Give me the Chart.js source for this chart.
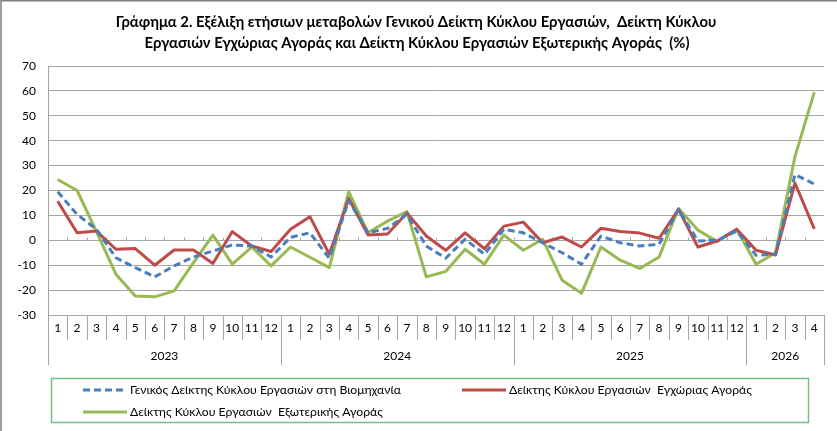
<!DOCTYPE html>
<html>
<head>
<meta charset="utf-8">
<script src="https://cdn.jsdelivr.net/npm/chart.js@4.4.1/dist/chart.umd.min.js"></script>
<style>
  html, body { margin: 0; padding: 0; background: #fff; }
  #wrap { position: relative; width: 837px; height: 431px; }
</style>
</head>
<body>
<div id="wrap"><canvas id="chart" width="837" height="431"></canvas></div>
<script>
// Years on the lower axis row and how many months each one covers
const years = ['2023', '2024', '2025', '2026'];
const monthsPerYear = [12, 12, 12, 4];

// Annual change (%) per month
const generalIndex = [
  19.5, 10.4, 4.4, -7, -11, -14.7, -10.3, -6.7, -4.3, -1.9, -2.3, -6.7,
  1.2, 3, -7.2, 16, 3, 4.8, 10.4, -2.3, -7.2, 0.4, -5.6, 4.4,
  3, -1, -5, -9.6, 1.7, -1, -2.3, -1.6, 12.4, -0.3, 0, 3.7,
  -6, -5.6, 26.4, 22.6
];
const domesticIndex = [
  15.7, 3, 3.7, -3.6, -3.3, -10, -3.9, -3.9, -9.3, 3.5, -2.3, -4.5,
  4.4, 9.5, -5.6, 16.8, 2.1, 2.5, 11, 1.7, -4, 3, -3.4, 5.7,
  7.3, -1, 1.3, -2.7, 4.8, 3.5, 2.9, 0.8, 12.4, -2.7, -0.3, 4.4,
  -4, -5.9, 23, 4.6
];
const externalIndex = [
  24.4, 20, 3.5, -13.6, -22.4, -22.7, -20.3, -9, 2.1, -9.6, -2.7, -10.3,
  -2.7, -6.8, -11, 19.5, 3, 7.7, 11.5, -14.7, -12.5, -3.6, -9.6, 2.1,
  -4, 0.4, -16, -21.3, -2.7, -8, -11.3, -6.7, 12.8, 4.1, -0.5, 4.4,
  -9.6, -5, 33.5, 59.5
];

const seriesNames = [
  'Γενικός Δείκτης Κύκλου Εργασιών στη Βιομηχανία',
  'Δείκτης Κύκλου Εργασιών  Εγχώριας Αγοράς',
  'Δείκτης Κύκλου Εργασιών  Εξωτερικής Αγοράς'
];
const titleLines = [
  'Γράφημα 2. Εξέλιξη ετήσιων μεταβολών Γενικού Δείκτη Κύκλου Εργασιών,  Δείκτη Κύκλου',
  'Εργασιών Εγχώριας Αγοράς και Δείκτη Κύκλου Εργασιών Εξωτερικής Αγοράς  (%)'
];

// month labels built from the year table
const monthLabels = [];
monthsPerYear.forEach(n => { for (let m = 1; m <= n; m++) monthLabels.push(String(m)); });

const FONT = 'Lato, "Open Sans", sans-serif';
const GRID = '#a6a6a6';
const BLUE = '#4a7ebb', RED = '#be4b48', GREEN = '#98b954';

// Draws the frame, title, two-row category axis and the boxed legend
const decorations = {
  id: 'decorations',
  beforeDraw(chart) {
    const ctx = chart.ctx;
    ctx.save();
    ctx.fillStyle = '#fff';
    ctx.fillRect(0, 0, chart.width, chart.height);
    ctx.strokeStyle = '#7f7f7f';
    ctx.lineWidth = 1.5;
    ctx.beginPath();
    ctx.moveTo(1, chart.height);
    ctx.lineTo(1, 0.75);
    ctx.lineTo(chart.width, 0.75);
    ctx.stroke();

    ctx.fillStyle = '#000';
    ctx.font = 'bold 14.8px ' + FONT;
    ctx.textAlign = 'center';
    ctx.textBaseline = 'middle';
    ctx.fillText(titleLines[0], 416, 22);
    ctx.fillText(titleLines[1], 417, 43);
    ctx.restore();
  },
  beforeDatasetsDraw(chart) {
    // small tick marks sitting on the zero line
    const ctx = chart.ctx, x = chart.scales.x, y = chart.scales.y;
    const step = x.getPixelForValue(1) - x.getPixelForValue(0);
    const y0 = Math.round(y.getPixelForValue(0)) + 0.5;
    ctx.save();
    ctx.strokeStyle = GRID;
    ctx.lineWidth = 1;
    ctx.beginPath();
    for (let i = 1; i < monthLabels.length; i++) {
      const px = Math.round(x.getPixelForValue(i) - step / 2) + 0.5;
      ctx.moveTo(px, y0);
      ctx.lineTo(px, y0 - 3);
    }
    ctx.stroke();
    ctx.restore();
  },
  afterDraw(chart) {
    const ctx = chart.ctx, x = chart.scales.x;
    const area = chart.chartArea;
    const step = x.getPixelForValue(1) - x.getPixelForValue(0);
    const top = area.bottom;
    ctx.save();
    ctx.strokeStyle = GRID;
    ctx.lineWidth = 1;

    // year boundaries (index where each year starts)
    const yearStarts = [0];
    monthsPerYear.forEach((n, k) => yearStarts.push(yearStarts[k] + n));

    ctx.beginPath();
    for (let i = 0; i <= monthLabels.length; i++) {
      const px = Math.round(x.getPixelForValue(i) - step / 2) + 0.5;
      const long = yearStarts.includes(i);
      ctx.moveTo(px, top);
      ctx.lineTo(px, top + (long ? 50 : 25));
    }
    ctx.stroke();

    ctx.fillStyle = '#000';
    ctx.font = '12px ' + FONT;
    ctx.textAlign = 'center';
    ctx.textBaseline = 'middle';
    monthLabels.forEach((m, i) => ctx.fillText(m, x.getPixelForValue(i), top + 13));
    years.forEach((yr, k) => {
      const mid = (x.getPixelForValue(yearStarts[k]) + x.getPixelForValue(yearStarts[k + 1] - 1)) / 2;
      ctx.fillText(yr, mid, top + 41);
    });

    // legend box
    ctx.strokeStyle = '#72c086';
    ctx.lineWidth = 1.5;
    ctx.strokeRect(51.5, 378.5, 757, 44);
    const items = [
      { color: BLUE, dash: [7, 4], x: 83, y: 390, text: seriesNames[0] },
      { color: RED, dash: [], x: 462, y: 390, text: seriesNames[1] },
      { color: GREEN, dash: [], x: 83, y: 412, text: seriesNames[2] }
    ];
    ctx.font = '12.2px ' + FONT;
    ctx.textAlign = 'left';
    items.forEach(it => {
      ctx.strokeStyle = it.color;
      ctx.lineWidth = 3;
      ctx.setLineDash(it.dash);
      ctx.beginPath();
      ctx.moveTo(it.x, it.y);
      ctx.lineTo(it.x + 44, it.y);
      ctx.stroke();
      ctx.setLineDash([]);
      ctx.fillStyle = '#000';
      ctx.fillText(it.text, it.x + 47, it.y);
    });
    ctx.restore();
  }
};

const ctx = document.getElementById('chart').getContext('2d');
const chart = new Chart(ctx, {
  type: 'line',
  data: {
    labels: monthLabels,
    datasets: [
      {
        label: seriesNames[0],
        data: generalIndex,
        borderColor: BLUE,
        borderWidth: 3,
        borderDash: [7, 4],
        order: 1
      },
      {
        label: seriesNames[1],
        data: domesticIndex,
        borderColor: RED,
        borderWidth: 3,
        order: 2
      },
      {
        label: seriesNames[2],
        data: externalIndex,
        borderColor: GREEN,
        borderWidth: 3,
        order: 3
      }
    ]
  },
  options: {
    responsive: false,
    animation: false,
    layout: { padding: { left: 0, top: 66, right: 13, bottom: 0 } },
    elements: {
      point: { radius: 0 },
      line: { tension: 0, borderJoinStyle: 'round', fill: false }
    },
    plugins: {
      legend: { display: false },
      title: { display: false },
      tooltip: { enabled: false }
    },
    scales: {
      x: {
        offset: true,
        grid: { display: false },
        border: { display: false },
        ticks: { display: false },
        afterFit(s) { s.height = 116; }
      },
      y: {
        min: -30,
        max: 70,
        ticks: { stepSize: 10, color: '#000', padding: 12, font: { family: FONT, size: 12 } },
        grid: { color: GRID, lineWidth: 1, drawTicks: false },
        border: { display: true, color: GRID },
        afterFit(s) { s.width = 48; }
      }
    }
  },
  plugins: [decorations]
});
</script>
</body>
</html>
